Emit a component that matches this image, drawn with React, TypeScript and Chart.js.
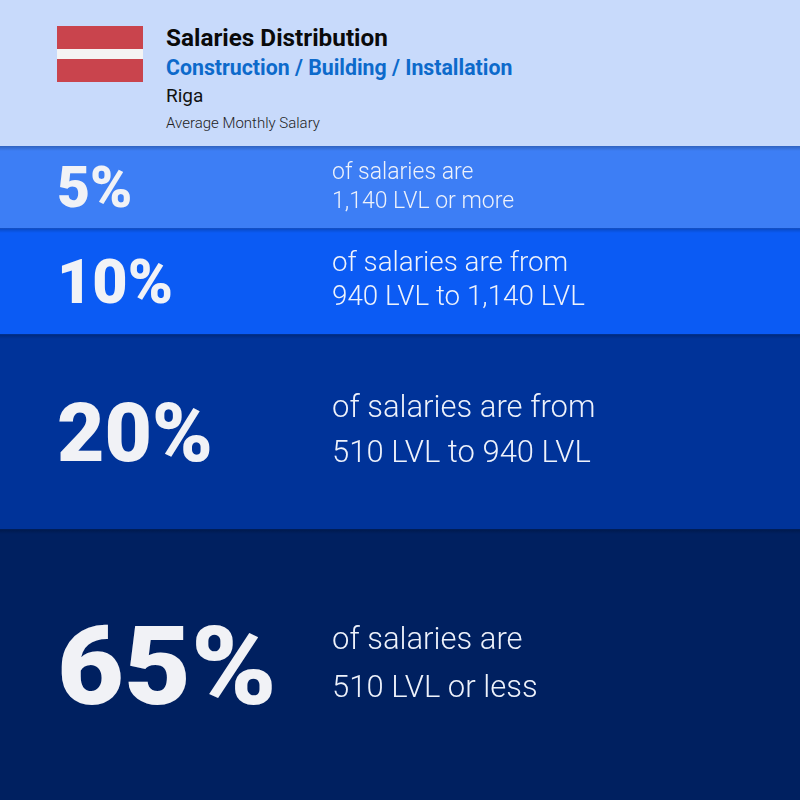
import { useEffect, useRef } from "react"
import { Chart, registerables } from "chart.js"

Chart.register(...registerables)

// shares shown in each band, top to bottom
const shares = ["5%", "10%", "20%", "65%"]
// band heights (px of the 654px tall strip)
const bandHeights = [82, 106, 195, 271]
const firstLines = ["of salaries are", "of salaries are from", "of salaries are from", "of salaries are"]
const secondLines = ["1,140 LVL or more", "940 LVL to 1,140 LVL", "510 LVL to 940 LVL", "510 LVL or less"]
const bandColors = ["#3d7ef5", "#0b5bf4", "#003399", "#002060"]

// per band text styling
const pctSizes = [57, 61, 82, 110]
const pctStretch = [1, 1, 1, 1.05]
const textSizes = [23, 27.8, 31, 31]
const lineGaps = [29, 34, 45, 48]

const labelPlugin = {
  id: "bandLabels",
  afterDatasetsDraw(chart: any) {
    const ctx = chart.ctx
    chart.data.datasets.forEach((_ds: any, i: number) => {
      const bar = chart.getDatasetMeta(i).data[0]
      if (!bar) return
      const top = Math.min(bar.y, bar.base)
      const bottom = Math.max(bar.y, bar.base)
      const mid = (top + bottom) / 2
      ctx.save()
      // soft shadow under the band above
      const g = ctx.createLinearGradient(0, top, 0, top + 5)
      g.addColorStop(0, "rgba(0,0,0,0.22)")
      g.addColorStop(1, "rgba(0,0,0,0)")
      ctx.fillStyle = g
      ctx.fillRect(0, top, chart.width, 5)

      ctx.fillStyle = "#f1f2f6"
      ctx.textBaseline = "alphabetic"
      ctx.textAlign = "left"
      ctx.font = `900 ${pctSizes[i]}px Roboto`
      ctx.save()
      ctx.translate(57, mid + pctSizes[i] * 0.711 / 2)
      ctx.scale(pctStretch[i], 1)
      ctx.fillText(shares[i], 0, 0)
      ctx.restore()

      ctx.fillStyle = "#eef2fb"
      ctx.font = `300 ${textSizes[i]}px 'Roboto Light', Roboto`
      const xh = textSizes[i] * 0.528
      const b1 = mid - lineGaps[i] / 2 + xh / 2
      ctx.fillText(firstLines[i], 332, b1)
      ctx.fillText(secondLines[i], 332, b1 + lineGaps[i])
      ctx.restore()
    })
  },
}

function BandChart() {
  const chartRef = useRef<HTMLCanvasElement>(null)
  const chartInstance = useRef<Chart | null>(null)

  useEffect(() => {
    if (!chartRef.current) return
    if (chartInstance.current) chartInstance.current.destroy()
    const ctx = chartRef.current.getContext("2d")
    if (!ctx) return

    const total = bandHeights.reduce((a, b) => a + b, 0)
    const config: any = {
      type: "bar",
      data: {
        labels: ["Riga"],
        datasets: shares.map((s, i) => ({
          label: s,
          data: [bandHeights[i]],
          backgroundColor: bandColors[i],
          borderWidth: 0,
          barPercentage: 1,
          categoryPercentage: 1,
        })),
      },
      options: {
        responsive: true,
        maintainAspectRatio: false,
        animation: false,
        layout: { padding: 0 },
        plugins: { legend: { display: false }, tooltip: { enabled: false } },
        scales: {
          x: { stacked: true, display: false },
          y: { stacked: true, display: false, reverse: true, min: 0, max: total },
        },
      },
      plugins: [labelPlugin],
    }
    chartInstance.current = new Chart(ctx, config)
    return () => {
      if (chartInstance.current) chartInstance.current.destroy()
    }
  }, [])

  return (
    <div style={{ position: "absolute", left: 0, top: 146, width: 800, height: 654 }}>
      <canvas ref={chartRef} />
    </div>
  )
}

const line = (top: number, size: number, extra: any = {}) => ({
  position: "absolute" as const,
  left: 166,
  top,
  fontSize: size,
  lineHeight: 1,
  whiteSpace: "nowrap" as const,
  ...extra,
})

export default function App() {
  useEffect(() => {
    document.body.style.margin = "0"
  }, [])

  return (
    <div
      style={{
        position: "fixed",
        left: 0,
        top: 0,
        width: 800,
        height: 800,
        overflow: "hidden",
        background: "#c8dafb",
        fontFamily: "Roboto, sans-serif",
      }}
    >
      <div
        style={{
          position: "absolute",
          left: 57,
          top: 26,
          width: 86,
          height: 56,
          background: "linear-gradient(#c9444d 0 23px, #f4f4f4 23px 33px, #c9444d 33px)",
        }}
      />
      <div style={line(26, 24.3, { fontWeight: 700, color: "#0a0a0a" })}>Salaries Distribution</div>
      <div style={line(57, 21.3, { fontWeight: 700, color: "#0d6acb" })}>Construction / Building / Installation</div>
      <div style={line(86, 19, { color: "#111" })}>Riga</div>
      <div style={line(116, 15, { color: "#222", fontWeight: 300 })}>Average Monthly Salary</div>
      <BandChart />
    </div>
  )
}
